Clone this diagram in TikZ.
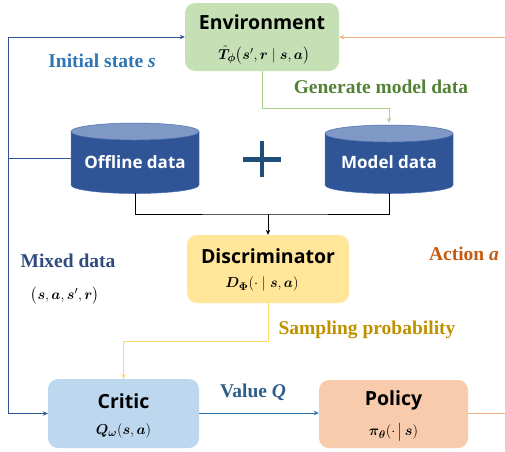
\documentclass[tikz,border=0pt]{standalone}
\usepackage{amsmath,bm}
\usepackage{fontspec}
\setmainfont{Liberation Serif}
\newfontfamily\boxfont{Open Sans}
\usetikzlibrary{arrows.meta}
\definecolor{envfill}{HTML}{C5E0B4}
\definecolor{discfill}{HTML}{FFE699}
\definecolor{critfill}{HTML}{BDD7EE}
\definecolor{polfill}{HTML}{F8CBAD}
\definecolor{cylbody}{HTML}{2F5597}
\definecolor{cyltop}{HTML}{7F98C6}
\definecolor{cylline}{HTML}{4A6FAE}
\definecolor{lineblue}{HTML}{2F5597}
\definecolor{arrblue}{HTML}{2E75B6}
\definecolor{lineorange}{HTML}{F4B183}
\definecolor{linegreen}{HTML}{A9D18E}
\definecolor{lineyellow}{HTML}{FFD966}
\definecolor{txtblue}{HTML}{2E75B6}
\definecolor{txtgreen}{HTML}{548235}
\definecolor{txtnavy}{HTML}{2F4A7E}
\definecolor{txtorange}{HTML}{C55A11}
\definecolor{txtgold}{HTML}{BF9000}
\definecolor{txtvalue}{HTML}{2E5F8A}
\definecolor{plusblue}{HTML}{1F4E79}
\tikzset{
  box/.style={draw=none, rounded corners=10pt, align=center, inner sep=0pt},
  boxtitle/.style={font=\boxfont\bfseries\fontsize{19.5}{21}\selectfont, inner sep=0pt},
  mth/.style={font=\fontsize{15.5}{17}\selectfont, inner sep=0pt},
  cyltxt/.style={text=white, font=\boxfont\bfseries\fontsize{17}{19}\selectfont, inner sep=0pt},
  lbl/.style={font=\bfseries\fontsize{19.5}{21}\selectfont, inner sep=0pt},
  tip/.style={-{Stealth[length=5pt,width=4.5pt]}},
  conn/.style={line width=1pt},
}
\begin{document}
\begin{tikzpicture}[x=1pt,y=-1pt]
\useasboundingbox (0,0) rectangle (505,451);
% boxes
\node[box, fill=envfill, minimum width=154pt, minimum height=68pt] (env) at (262,37) {};
\node[boxtitle] (envt) at (262,22) {Environment};
\node[mth] (envm) at (264,55) {$\hat{\bm{T}}_{\bm{\phi}}\bigl(\bm{s}',\bm{r}\mid\bm{s},\bm{a}\bigr)$};

\node[box, fill=discfill, minimum width=162pt, minimum height=68pt] (disc) at (268,269) {};
\node[boxtitle] (disct) at (268,256) {Discriminator};
\node[mth] (discm) at (262,284) {$\bm{D}_{\bm{\Phi}}(\cdot\mid\bm{s},\bm{a})$};

\node[box, fill=critfill, minimum width=151pt, minimum height=69pt] (critic) at (123.5,413.5) {};
\node[boxtitle] (critt) at (123.5,401) {Critic};
\node[mth] (critm) at (123.5,431) {$\bm{Q}_{\bm{\omega}}(\bm{s},\bm{a})$};

\node[box, fill=polfill, minimum width=149pt, minimum height=68pt] (policy) at (393.5,414) {};
\node[boxtitle] (polt) at (393.5,400) {Policy};
\node[mth] (polm) at (393.5,432) {$\bm{\pi}_{\bm{\theta}}(\cdot\,\big|\,\bm{s})$};

% cylinders
\foreach \cx/\nm/\txt/\ty in {135/off/Offline data/123, 389/mod/Model data/125}{
  \fill[cylbody] (\cx-64,\ty+8.5) rectangle (\cx+64,185);
  \fill[cylbody] (\cx,185) ellipse [x radius=64, y radius=8.5];
  \draw[cylline, line width=0.5pt] (\cx-64,\ty+8.5) -- (\cx-64,185) arc[start angle=180, delta angle=-180, x radius=64, y radius=8.5] -- (\cx+64,\ty+8.5);
  \draw[cylline, fill=cyltop, line width=0.5pt] (\cx,\ty+8.5) ellipse [x radius=64, y radius=8.5];
  \node[minimum width=128pt, minimum height=70pt, inner sep=0pt] (\nm) at (\cx,158) {};
  \node[cyltxt] (\nm t) at (\cx,162) {\txt};
}
% plus
\node[inner sep=0pt] (plus) at (262,159) {};
\fill[plusblue] (243,157) rectangle (281,161.5);
\fill[plusblue] (259.7,141) rectangle (264.3,177);

% coordinates
\coordinate (lb) at (8,158);
\coordinate (orR) at (505,37);
\coordinate (orR2) at (505,413);
\coordinate (jn) at (268,214);

% connectors
\draw[lineblue, conn] (off.west |- lb) -- (lb);
\draw[lineblue, conn, tip] (lb) |- (env.west);
\draw[lineblue, conn, tip] (lb) |- (critic.west);
\draw[lineorange, conn, tip] (orR) -- (env.east);
\draw[lineorange, conn] (policy.east |- orR2) -- (orR2);
\draw[linegreen, conn, tip] (env.south) -- (262,108) -| (mod.north);
\draw[black, conn] (off.south) |- (jn) -| (mod.south);
\draw[black, conn, tip] (jn) -- (disc.north);
\draw[lineyellow, conn, tip] (disc.south) |- (123.5,341) -- (critic.north);
\draw[arrblue, conn, tip] (critic.east |- orR2) -- (policy.west |- orR2);

% labels
\node[lbl, text=txtblue] (l1) at (102,61) {Initial state \textit{s}};
\node[lbl, text=txtgreen] (l2) at (381,87) {Generate model data};
\node[lbl, text=txtnavy] (l3) at (68,261) {Mixed data};
\node[mth] (l3m) at (65,296) {$\bigl(\bm{s},\bm{a},\bm{s}',\bm{r}\bigr)$};
\node[lbl, text=txtorange] (l4) at (464,254) {Action \textit{a}};
\node[lbl, text=txtgold] (l5) at (367,330) {Sampling probability};
\node[lbl, text=txtvalue] (l6) at (253,392) {Value \textit{Q}};
\end{tikzpicture}
\end{document}
